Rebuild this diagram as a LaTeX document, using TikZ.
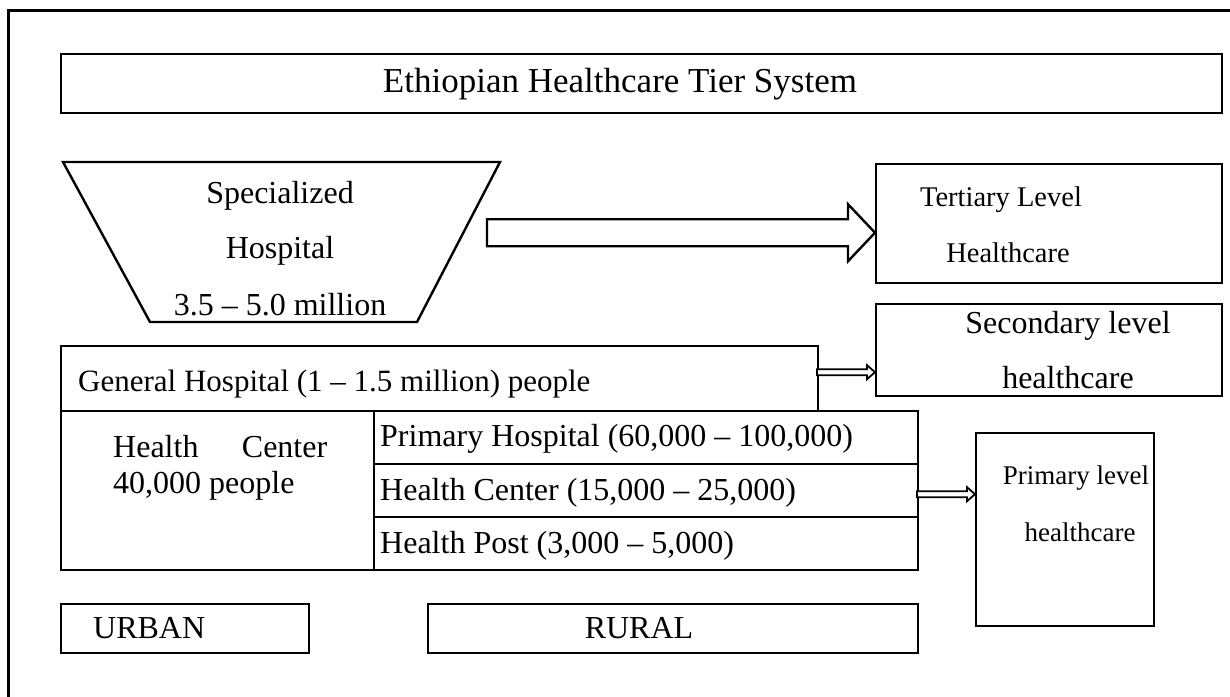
\documentclass[tikz,border=0pt]{standalone}
\usepackage{fontspec}
\setmainfont{Liberation Serif}
\usetikzlibrary{calc}
\begin{document}
\begin{tikzpicture}[x=1pt,y=-1pt,
  box/.style={draw, line width=2.4pt, inner sep=0pt, anchor=north west},
  lbl/.style={inner sep=0pt, font=\fontsize{32}{38}\selectfont, text height=22pt, text depth=7pt},
  big/.style={font=\fontsize{35}{42}\selectfont},
  small/.style={font=\fontsize{28.5}{34}\selectfont},
  smaller/.style={font=\fontsize{27}{32}\selectfont},
  blockarrow/.style={draw, line width=2.4pt, fill=white, line join=miter},
  thinarrow/.style={draw, line width=1.8pt, fill=white, line join=miter}]
\clip (0,0) rectangle (1230,696);
\fill[white] (0,0) rectangle (1230,696);
% outer frame
\draw[line width=3pt] (8,720) -- (8,10) -- (1260,10);

% title
\node[box, minimum width=1161pt, minimum height=59pt] (title) at (60,53) {};
\node[lbl, big] (titletext) at (620,85) {Ethiopian Healthcare Tier System};

% specialized hospital (inverted trapezium)
\draw[line width=2.4pt, line join=miter] (63,162) -- (500,162) -- (417,322) -- (150,322) -- cycle;
\coordinate (spec) at (280,242);
\node[lbl] (spec1) at (280,196) {Specialized};
\node[lbl] (spec2) at (280,251) {Hospital};
\node[lbl] (spec3) at (280,308) {3.5 – 5.0 million};

% tertiary level
\node[box, minimum width=346pt, minimum height=119pt] (tert) at (875,163) {};
\node[lbl, small] (tert1) at (1001,199) {Tertiary Level};
\node[lbl, small] (tert2) at (1008,255) {Healthcare};

% secondary level
\node[box, minimum width=346pt, minimum height=92pt] (sec) at (875,303) {};
\node[lbl] (sec1) at (1068,326) {Secondary level};
\node[lbl] (sec2) at (1068,381) {healthcare};

% general hospital
\node[box, minimum width=757pt, minimum height=65pt] (gen) at (60,345) {};
\node[lbl, anchor=west, font=\fontsize{31}{37}\selectfont] (gentext) at (78,384) {General Hospital (1 – 1.5 million) people};

% urban health center
\node[box, minimum width=313pt, minimum height=159pt] (hcu) at (60,410) {};
\node[lbl, anchor=west] (hcu1) at (113,450) {\makebox[214pt][s]{Health Center}};
\node[lbl, anchor=west] (hcu2) at (113,486) {40,000 people};

% rural tiers
\node[box, minimum width=544pt, minimum height=53pt] (ph) at (373,410) {};
\node[box, minimum width=544pt, minimum height=53pt] (hc) at (373,463) {};
\node[box, minimum width=544pt, minimum height=53pt] (hp) at (373,516) {};
\node[lbl, anchor=west] (phtext) at (380,439) {Primary Hospital (60,000 – 100,000)};
\node[lbl, anchor=west] (hctext) at (380,493) {Health Center (15,000 – 25,000)};
\node[lbl, anchor=west] (hptext) at (380,546) {Health Post (3,000 – 5,000)};

% primary level
\node[box, minimum width=178pt, minimum height=193pt] (prim) at (975,432) {};
\node[lbl, smaller] (prim1) at (1076,477) {Primary level};
\node[lbl, smaller] (prim2) at (1080,534) {healthcare};

% urban / rural
\node[box, minimum width=248pt, minimum height=49pt] (urban) at (60,603) {};
\node[lbl, anchor=west] (urbantext) at (93,631) {URBAN};
\node[box, minimum width=490pt, minimum height=49pt] (rural) at (427,603) {};
\node[lbl] (ruraltext) at (639,631) {RURAL};

% block arrow to tertiary level
\coordinate (bigtip) at ($(tert.west)+(0,9)$);
\draw[blockarrow] (bigtip) -- ++(-27,-28.5) -- ++(0,15) -- ++(-361,0) -- ++(0,27)
  -- ++(361,0) -- ++(0,15) -- cycle;

% arrow to secondary level
\coordinate (sectip) at ($(gen.east)+(0,-6.5)$);
\coordinate (sectip) at (sectip -| sec.west);
\draw[thinarrow] (sectip) -- ++(-8,-7) -- ++(0,4) -- ++(-50,0) -- ++(0,6)
  -- ++(50,0) -- ++(0,4) -- cycle;

% arrow to primary level
\coordinate (primtip) at ($(hc.east)+(0,3.5)$);
\coordinate (primtip) at (primtip -| prim.west);
\draw[thinarrow] (primtip) -- ++(-8,-7) -- ++(0,4) -- ++(-50,0) -- ++(0,6)
  -- ++(50,0) -- ++(0,4) -- cycle;
\end{tikzpicture}
\end{document}
